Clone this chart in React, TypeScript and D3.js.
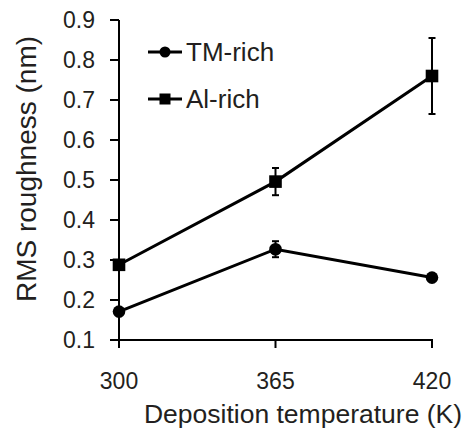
import React from "react";
import * as d3 from "d3";

const temperatures = ["300", "365", "420"];
const tmRich = [0.171, 0.327, 0.256];
const tmRichErr = [0, 0.02, 0];
const alRich = [0.288, 0.496, 0.76];
const alRichErr = [0, 0.034, 0.095];
const yTicks = [0.1, 0.2, 0.3, 0.4, 0.5, 0.6, 0.7, 0.8, 0.9];
const seriesNames = ["TM-rich", "Al-rich"];

const W = 467;
const H = 429;
const FONT = "'Liberation Sans', Arial, Helvetica, sans-serif";
const INK = "#000";
const TEXT = "#231f20";

export default function App() {
  const x = d3.scalePoint<string>().domain(temperatures).range([119, 432]).padding(0);
  const y = d3.scaleLinear().domain([0.1, 0.9]).range([340, 20]);
  const line = d3
    .line<number>()
    .x((_, i) => x(temperatures[i]) as number)
    .y((d) => y(d));

  const series = [
    { name: seriesNames[0], values: tmRich, err: tmRichErr, shape: "circle" },
    { name: seriesNames[1], values: alRich, err: alRichErr, shape: "square" },
  ];

  const marker = (shape: string, cx: number, cy: number, key: string, r = 6.3) =>
    shape === "circle" ? (
      <circle key={key} cx={cx} cy={cy} r={r} fill={INK} />
    ) : (
      <rect key={key} x={cx - r} y={cy - r} width={2 * r} height={2 * r} fill={INK} />
    );

  return (
    <svg
      width={W}
      height={H}
      style={{ position: "absolute", left: 0, top: 0, background: "#fff" }}
      fontFamily={FONT}
    >
      {/* y axis */}
      <line x1={119} x2={119} y1={y(0.9)} y2={y(0.1)} stroke={INK} strokeWidth={2} />
      {yTicks.map((t) => (
        <g key={t}>
          <line x1={110} x2={119} y1={y(t)} y2={y(t)} stroke={INK} strokeWidth={2} />
          <text x={95} y={y(t)} dy="0.36em" textAnchor="end" fontSize={23} fill={TEXT}>
            {t.toFixed(1)}
          </text>
        </g>
      ))}
      {/* x axis */}
      <line x1={118} x2={433} y1={340} y2={340} stroke={INK} strokeWidth={2} />
      {temperatures.map((t) => (
        <g key={t}>
          <line x1={x(t)} x2={x(t)} y1={340} y2={348} stroke={INK} strokeWidth={2} />
          <text x={x(t)} y={389} textAnchor="middle" fontSize={23} fill={TEXT}>
            {t}
          </text>
        </g>
      ))}
      <text x={303} y={423} textAnchor="middle" fontSize={26.5} fill={TEXT}>
        Deposition temperature (K)
      </text>
      <text
        transform={`translate(36,169) rotate(-90)`}
        textAnchor="middle"
        fontSize={28}
        fill={TEXT}
      >
        RMS roughness (nm)
      </text>

      {/* series */}
      {series.map((s) => (
        <g key={s.name}>
          <path d={line(s.values) || ""} fill="none" stroke={INK} strokeWidth={3} />
          {s.values.map((v, i) =>
            s.err[i] > 0 ? (
              <g key={i}>
                <line
                  x1={x(temperatures[i])}
                  x2={x(temperatures[i])}
                  y1={y(v - s.err[i])}
                  y2={y(v + s.err[i])}
                  stroke={INK}
                  strokeWidth={2}
                />
                {[v - s.err[i], v + s.err[i]].map((e, j) => (
                  <line
                    key={j}
                    x1={(x(temperatures[i]) as number) - 3.5}
                    x2={(x(temperatures[i]) as number) + 3.5}
                    y1={y(e)}
                    y2={y(e)}
                    stroke={INK}
                    strokeWidth={2}
                  />
                ))}
              </g>
            ) : null
          )}
          {s.values.map((v, i) =>
            marker(s.shape, x(temperatures[i]) as number, y(v), s.name + i)
          )}
        </g>
      ))}

      {/* legend */}
      {series.map((s, i) => {
        const ly = 52 + i * 47;
        return (
          <g key={s.name}>
            <line x1={148} x2={182} y1={ly} y2={ly} stroke={INK} strokeWidth={3} />
            {marker(s.shape, 165, ly, "lg" + i, 5.5)}
            <text x={186} y={ly} dy="0.36em" fontSize={26} fill={TEXT}>
              {s.name}
            </text>
          </g>
        );
      })}
    </svg>
  );
}
